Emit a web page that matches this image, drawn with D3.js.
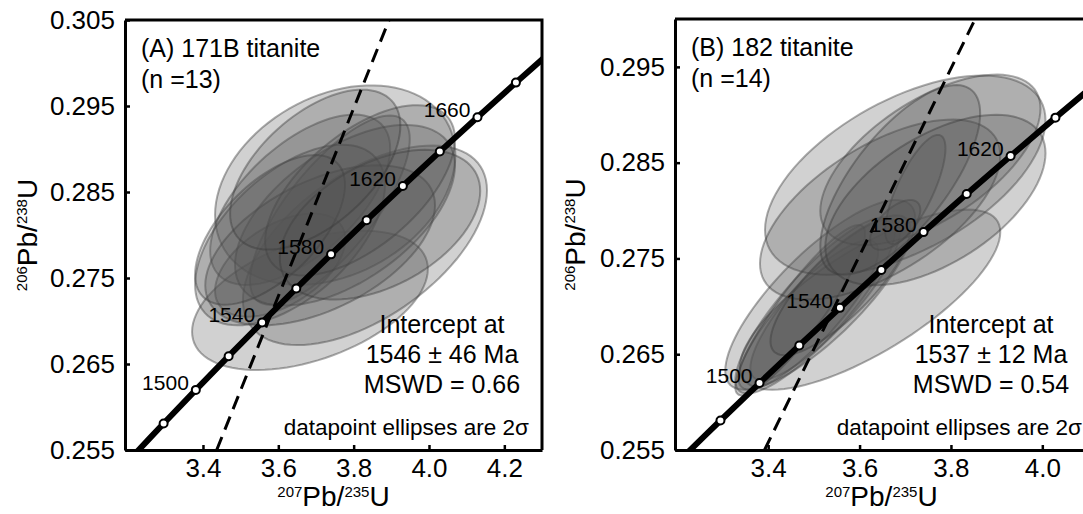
<!DOCTYPE html>
<html>
<head>
<meta charset="utf-8">
<script src="https://cdn.jsdelivr.net/npm/d3@7"></script>
<style>
  body { margin: 0; background: #fff; }
  svg text { font-family: "Liberation Sans", Arial, Helvetica, sans-serif; fill: #000; }
</style>
</head>
<body>
<svg id="chart" width="1083" height="514"></svg>
<script>
// Concordia reference points (age in Ma, 207Pb/235U, 206Pb/238U)
const concordiaAge = [1460, 1480, 1500, 1520, 1540, 1560, 1580, 1600, 1620, 1640, 1660, 1680, 1700];
const concordia75 = [3.2118, 3.2955, 3.3810, 3.4681, 3.5570, 3.6477, 3.7401, 3.8344, 3.9306, 4.0287, 4.1287, 4.2307, 4.3347];
const concordia68 = [0.25418, 0.25808, 0.26199, 0.26591, 0.26984, 0.27379, 0.27775, 0.28172, 0.28570, 0.28970, 0.29370, 0.29772, 0.30176];

// Ages marked on the concordia and the ages carrying a label
const markerAgesA = [1480, 1500, 1520, 1540, 1560, 1580, 1600, 1620, 1640, 1660, 1680];
const labelAgesA = [1500, 1540, 1580, 1620, 1660];
const markerAgesB = [1480, 1500, 1520, 1540, 1560, 1580, 1600, 1620, 1640];
const labelAgesB = [1500, 1540, 1580, 1620];

// Axis ticks
const xTicksA = [3.4, 3.6, 3.8, 4.0, 4.2];
const yTicksA = [0.255, 0.265, 0.275, 0.285, 0.295, 0.305];
const xTicksB = [3.4, 3.6, 3.8, 4.0];
const yTicksB = [0.255, 0.265, 0.275, 0.285, 0.295];

// Sample 171B titanite: analyses (207/235, 206/238, 2σ of each, error correlation)
const a75 = [3.684, 3.830, 3.751, 3.658, 3.737, 3.605, 3.777, 3.631, 3.711, 3.817, 3.578, 3.870, 3.698];
const a68 = [0.2724, 0.2788, 0.2858, 0.2841, 0.2829, 0.2765, 0.2823, 0.2800, 0.2788, 0.2852, 0.2806, 0.2812, 0.2876];
const a75err = [0.313, 0.324, 0.319, 0.239, 0.212, 0.173, 0.292, 0.252, 0.305, 0.252, 0.199, 0.266, 0.226];
const a68err = [0.0081, 0.0116, 0.0116, 0.0099, 0.0110, 0.0060, 0.0105, 0.0105, 0.0093, 0.0099, 0.0087, 0.0087, 0.0093];
const aRho = [0.45, 0.55, 0.30, 0.60, 0.75, 0.50, 0.55, 0.55, 0.50, 0.60, 0.60, 0.45, 0.55];

// Sample 182 titanite
const b75 = [3.503, 3.525, 3.488, 3.514, 3.623, 3.470, 3.558, 3.700, 3.755, 3.645, 3.722, 3.678, 3.689, 3.766];
const b68 = [0.2701, 0.2707, 0.2691, 0.2712, 0.2707, 0.2696, 0.2722, 0.2837, 0.2853, 0.2801, 0.2822, 0.2785, 0.2832, 0.2811];
const b75err = [0.175, 0.164, 0.153, 0.208, 0.285, 0.142, 0.153, 0.307, 0.241, 0.263, 0.066, 0.055, 0.175, 0.241];
const b68err = [0.0092, 0.0084, 0.0078, 0.0099, 0.0094, 0.0089, 0.0073, 0.0104, 0.0089, 0.0094, 0.0057, 0.0026, 0.0099, 0.0089];
const bRho = [0.85, 0.85, 0.85, 0.80, 0.75, 0.90, 0.80, 0.55, 0.60, 0.60, 0.75, 0.60, 0.70, 0.55];

// Discordia regression lines (two end points each, 207/235 and 206/238)
const discA75 = [3.4364, 3.894];
const discA68 = [0.255, 0.305];
const discB75 = [3.392, 3.853];
const discB68 = [0.255, 0.300];

const panels = [
  {
    key: "A", left: 125, right: 542, top: 20, bottom: 450,
    xDomain: [3.193, 4.30], yDomain: [0.255, 0.305],
    xTicks: xTicksA, yTicks: yTicksA,
    ell: { x: a75, y: a68, sx: a75err, sy: a68err, rho: aRho },
    disc: { x: discA75, y: discA68 },
    markers: markerAgesA, labels: labelAgesA,
    title: ["(A) 171B titanite", "(n =13)"],
    result: ["Intercept at", "1546 \u00b1 46 Ma", "MSWD = 0.66"],
    resultX: 442, noteX: 529, yTitleX: 37
  },
  {
    key: "B", left: 675, right: 1088, top: 19, bottom: 450,
    xDomain: [3.196, 4.10], yDomain: [0.255, 0.300],
    xTicks: xTicksB, yTicks: yTicksB,
    ell: { x: b75, y: b68, sx: b75err, sy: b68err, rho: bRho },
    disc: { x: discB75, y: discB68 },
    markers: markerAgesB, labels: labelAgesB,
    title: ["(B) 182 titanite", "(n =14)"],
    result: ["Intercept at", "1537 \u00b1 12 Ma", "MSWD = 0.54"],
    resultX: 991, noteX: 1082, yTitleX: 585
  }
];

const svg = d3.select("#chart");
const concordiaPts = concordiaAge.map((t, i) => ({ age: t, x: concordia75[i], y: concordia68[i] }));

// Outline of a 2σ error ellipse from the two errors and their correlation
function ellipsePoints(cx, cy, sx, sy, rho) {
  const pts = [];
  const k = Math.sqrt(1 - rho * rho);
  for (let i = 0; i < 96; i++) {
    const a = (i / 96) * 2 * Math.PI;
    const u = Math.cos(a), v = Math.sin(a);
    pts.push([cx + sx * u, cy + sy * (rho * u + k * v)]);
  }
  return pts;
}

panels.forEach(p => {
  const x = d3.scaleLinear().domain(p.xDomain).range([p.left, p.right]);
  const y = d3.scaleLinear().domain(p.yDomain).range([p.bottom, p.top]);
  const g = svg.append("g");

  const clipId = "clip" + p.key;
  svg.append("clipPath").attr("id", clipId)
    .append("rect")
    .attr("x", p.left).attr("y", p.top)
    .attr("width", p.right - p.left).attr("height", p.bottom - p.top);

  const plot = g.append("g").attr("clip-path", `url(#${clipId})`);

  // Error ellipses
  const ellLine = d3.line().x(d => x(d[0])).y(d => y(d[1])).curve(d3.curveLinearClosed);
  const ellData = p.ell.x.map((cx, i) =>
    ellipsePoints(cx, p.ell.y[i], p.ell.sx[i], p.ell.sy[i], p.ell.rho[i]));
  plot.append("g").selectAll("path").data(ellData).join("path")
    .attr("d", ellLine)
    .attr("fill", "#555")
    .attr("fill-opacity", 0.27)
    .attr("stroke", "#3a3a3a")
    .attr("stroke-opacity", 0.42)
    .attr("stroke-width", 2);

  // Discordia
  plot.append("line")
    .attr("x1", x(p.disc.x[0])).attr("y1", y(p.disc.y[0]))
    .attr("x2", x(p.disc.x[1])).attr("y2", y(p.disc.y[1]))
    .attr("stroke", "#000").attr("stroke-width", 3)
    .attr("stroke-dasharray", "14,8");

  // Concordia
  const concLine = d3.line().x(d => x(d.x)).y(d => y(d.y)).curve(d3.curveCatmullRom);
  plot.append("path").datum(concordiaPts)
    .attr("d", concLine)
    .attr("fill", "none").attr("stroke", "#000").attr("stroke-width", 6);

  plot.append("g").selectAll("circle")
    .data(concordiaPts.filter(d => p.markers.includes(d.age)))
    .join("circle")
    .attr("cx", d => x(d.x)).attr("cy", d => y(d.y)).attr("r", 4)
    .attr("fill", "#fff").attr("stroke", "#000").attr("stroke-width", 2);

  g.append("g").selectAll("text")
    .data(concordiaPts.filter(d => p.labels.includes(d.age)))
    .join("text")
    .attr("x", d => x(d.x) - 7).attr("y", d => y(d.y))
    .attr("text-anchor", "end")
    .style("font-size", "21px")
    .text(d => d.age);

  // Axes with inward ticks
  const xAxis = d3.axisBottom(x).tickValues(p.xTicks).tickFormat(d3.format(".1f"))
    .tickSizeInner(-5).tickSizeOuter(0).tickPadding(9);
  const yAxis = d3.axisLeft(y).tickValues(p.yTicks).tickFormat(d3.format(".3f"))
    .tickSizeInner(-5).tickSizeOuter(0).tickPadding(10);

  const gx = g.append("g").attr("transform", `translate(0,${p.bottom})`).call(xAxis);
  const gy = g.append("g").attr("transform", `translate(${p.left},0)`).call(yAxis);
  [gx, gy].forEach(a => {
    a.select(".domain").attr("stroke", "#000").attr("stroke-width", 3);
    a.selectAll(".tick line").attr("stroke", "#000").attr("stroke-width", 2.5);
    a.selectAll(".tick text").attr("fill", "#000")
      .style("font-size", "26px")
      .style("font-family", '"Liberation Sans", Arial, sans-serif');
  });

  // Frame top and right
  g.append("path")
    .attr("d", `M${p.left},${p.top}H${p.right}V${p.bottom}`)
    .attr("fill", "none").attr("stroke", "#000").attr("stroke-width", 3);

  // Panel title
  g.append("text").attr("x", p.left + 16).attr("y", p.top + 37)
    .style("font-size", "25px").text(p.title[0]);
  g.append("text").attr("x", p.left + 16).attr("y", p.top + 68)
    .style("font-size", "25px").text(p.title[1]);

  // Intercept result
  p.result.forEach((s, i) => {
    g.append("text").attr("x", p.resultX).attr("y", 333 + i * 30)
      .attr("text-anchor", "middle").style("font-size", "25px").text(s);
  });

  g.append("text").attr("x", p.noteX).attr("y", 435)
    .attr("text-anchor", "end").style("font-size", "22.5px")
    .text("datapoint ellipses are 2\u03c3");

  // Axis titles
  const xt = g.append("text")
    .attr("x", (p.left + p.right) / 2).attr("y", 506)
    .attr("text-anchor", "middle").style("font-size", "28px");
  xt.append("tspan").style("font-size", "15px").attr("dy", -9).text("207");
  xt.append("tspan").attr("dy", 9).text("Pb/");
  xt.append("tspan").style("font-size", "15px").attr("dy", -9).text("235");
  xt.append("tspan").attr("dy", 9).text("U");

  const yt = g.append("text")
    .attr("transform", `translate(${p.yTitleX},${(p.top + p.bottom) / 2}) rotate(-90)`)
    .attr("text-anchor", "middle").style("font-size", "28px");
  yt.append("tspan").style("font-size", "15px").attr("dy", -10).text("206");
  yt.append("tspan").attr("dy", 10).text("Pb/");
  yt.append("tspan").style("font-size", "15px").attr("dy", -10).text("238");
  yt.append("tspan").attr("dy", 10).text("U");
});
</script>
</body>
</html>
